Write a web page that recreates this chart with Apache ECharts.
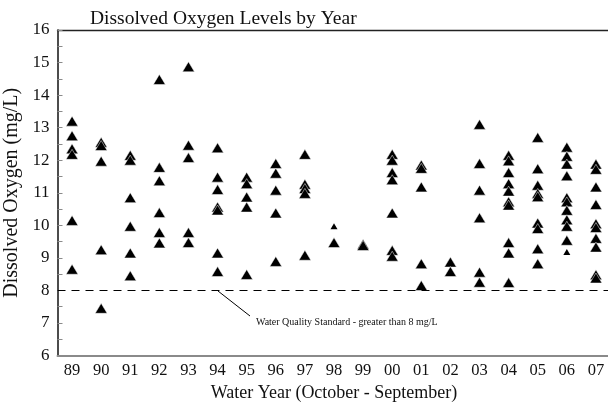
<!DOCTYPE html>
<html><head><meta charset="utf-8">
<script src="https://cdn.jsdelivr.net/npm/echarts@6/dist/echarts.min.js"></script>
<style>html,body{margin:0;padding:0;background:#fff}#c{width:608px;height:402px}</style>
</head><body><div id="c"></div>
<script>
const years = ['89','90','91','92','93','94','95','96','97','98','99','00','01','02','03','04','05','06','07'];
const yTicks = [6,7,8,9,10,11,12,13,14,15,16];
const standard = 8;
const y89 = [13.2, 12.75, 12.35, 12.18, 10.15, 8.65];
const y90 = [12.55, 12.45, 11.97, 9.25, 7.45];
const y91 = [12.15, 12.0, 10.85, 9.97, 9.15, 8.45];
const y92 = [14.48, 11.78, 11.37, 10.39, 9.78, 9.46];
const y93 = [14.87, 12.46, 12.08, 9.78, 9.47];
const y94 = [12.38, 11.48, 11.1, 10.56, 10.47, 9.15, 8.58];
const y95 = [11.48, 11.28, 10.87, 10.56, 8.49];
const y96 = [11.9, 11.6, 11.08, 10.38, 8.89];
const y97 = [12.18, 11.26, 11.13, 10.98, 9.08];
const y98 = [9.47];
const y99 = [9.42, 9.38];
const y00 = [12.18, 12.0, 11.62, 11.4, 10.38, 9.23, 9.05];
const y01 = [11.85, 11.75, 11.18, 8.82, 8.15];
const y02 = [8.87, 8.58];
const y03 = [13.1, 11.9, 11.08, 10.23, 8.56, 8.25];
const y04 = [12.15, 11.98, 11.62, 11.28, 11.05, 10.72, 10.62, 9.47, 9.15, 8.24];
const y05 = [12.7, 11.74, 11.23, 10.98, 10.88, 10.07, 9.9, 9.28, 8.82];
const y06 = [12.4, 12.12, 11.88, 11.52, 10.85, 10.72, 10.46, 10.17, 9.97, 9.54];
const y07 = [11.88, 11.72, 11.18, 10.64, 10.05, 9.93, 9.6, 9.33, 8.48, 8.38];
const smallYears = ['98', '06'];
const smallValues = [9.97, 9.18];

const byYear = [y89,y90,y91,y92,y93,y94,y95,y96,y97,y98,y99,y00,y01,y02,y03,y04,y05,y06,y07];
const mainData = [];
byYear.forEach((vals, i) => vals.forEach(v => mainData.push([years[i], v])));
const smallData = smallYears.map((y, i) => [y, smallValues[i]]);

const FONT = '"Liberation Serif", "DejaVu Serif", serif';
const chart = echarts.init(document.getElementById('c'), null, {renderer: 'canvas'});
const catBase = {type: 'category', data: years, boundaryGap: true};
chart.setOption({
  animation: false,
  backgroundColor: '#fff',
  title: {text: 'Dissolved Oxygen Levels by Year', left: 85, top: 4,
    textStyle: {fontFamily: FONT, fontSize: 19.5, fontWeight: 'normal', color: '#111'}},
  grid: {left: 57.5, top: 30, width: 553, height: 325.5, containLabel: false, outerBoundsMode: 'none'},
  xAxis: [
    Object.assign({}, catBase, {position: 'bottom',
      name: 'Water Year (October - September)', nameLocation: 'middle', nameGap: 27,
      nameTextStyle: {fontFamily: FONT, fontSize: 18, color: '#111'},
      axisLine: {lineStyle: {color: '#8a8a8a', width: 2}},
      axisTick: {alignWithLabel: true, length: 4, lineStyle: {color: '#8a8a8a', width: 1}},
      axisLabel: {fontFamily: FONT, fontSize: 16.5, color: '#111', margin: 7},
      splitLine: {show: false}}),
    Object.assign({}, catBase, {position: 'bottom',
      axisLine: {show: false},
      axisTick: {alignWithLabel: true, inside: true, length: 4, lineStyle: {color: '#8a8a8a', width: 1}},
      axisLabel: {show: false}, splitLine: {show: false}}),
    Object.assign({}, catBase, {position: 'top',
      axisLine: {lineStyle: {color: '#222', width: 1.3}},
      axisTick: {show: false}, axisLabel: {show: false}, splitLine: {show: false}})
  ],
  yAxis: {type: 'value', min: yTicks[0], max: yTicks[yTicks.length - 1], interval: 1,
    name: 'Dissolved Oxygen (mg/L)', nameLocation: 'middle', nameGap: 33,
    nameTextStyle: {fontFamily: FONT, fontSize: 20, color: '#111'},
    axisLine: {show: true, lineStyle: {color: '#111', width: 1.5}},
    axisTick: {show: true, inside: true, length: 5, lineStyle: {color: '#8a8a8a'}},
    minorTick: {show: true, splitNumber: 2, length: 5, lineStyle: {color: '#8a8a8a'}},
    axisLabel: {fontFamily: FONT, fontSize: 17, color: '#111', margin: 8},
    splitLine: {show: false}},
  series: [
    {type: 'scatter', xAxisIndex: 0, data: mainData, symbol: 'triangle', symbolSize: [12, 10],
      itemStyle: {color: '#000', borderColor: '#fff', borderWidth: 0.5, opacity: 1},
      markLine: {silent: true, symbol: 'none', label: {show: false},
        lineStyle: {color: '#000', type: [8, 6], width: 1},
        data: [{yAxis: standard}]}},
    {type: 'scatter', xAxisIndex: 0, data: smallData, symbol: 'triangle', symbolSize: [7, 6],
      itemStyle: {color: '#000', opacity: 1}}
  ],
  graphic: [
    {type: 'line', shape: {x1: 218, y1: 291, x2: 250, y2: 316}, style: {stroke: '#000', lineWidth: 1}},
    {type: 'text', left: 256, top: 317, style: {text: 'Water Quality Standard - greater than 8 mg/L',
      font: '10px "Liberation Serif", serif', fill: '#111'}}
  ]
});
</script></body></html>
